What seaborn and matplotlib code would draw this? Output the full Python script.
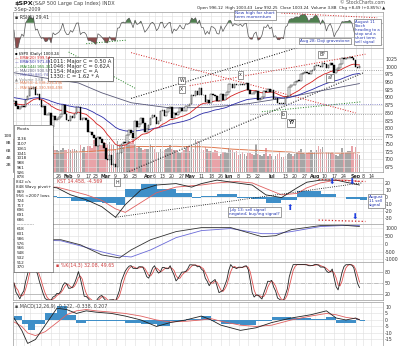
import numpy as np
import pandas as pd
import matplotlib
matplotlib.use("Agg")
import matplotlib.pyplot as plt
import seaborn as sns

# ---------------- data (read / estimated from the chart) ----------------
start_date = "2008-12-19"
holidays = ["2008-12-25", "2009-01-01", "2009-01-19", "2009-02-16",
            "2009-04-10", "2009-05-25", "2009-07-03", "2009-09-07"]

close_dec = [887.9, 871.6, 863.2, 868.2, 872.8, 869.4, 890.6, 903.3]
close_jan = [931.8, 927.5, 934.7, 906.7, 909.7, 890.4, 870.3, 871.8, 842.6, 843.7,
             850.1, 805.2, 840.2, 827.5, 831.9, 836.6, 845.7, 874.1, 845.1, 825.9]
close_feb = [825.4, 838.5, 832.2, 845.9, 868.6, 869.9, 827.2, 833.7, 835.2, 826.8,
             789.2, 788.4, 778.9, 770.1, 743.3, 773.1, 764.9, 752.8, 735.1]
close_mar = [700.8, 696.3, 712.9, 682.6, 683.4, 676.5, 719.6, 721.4, 750.7, 756.6, 753.9,
             778.1, 794.4, 784.0, 768.5, 822.9, 806.1, 813.9, 832.9, 815.9, 787.5, 797.9]
close_apr = [811.1, 834.4, 842.5, 835.5, 815.6, 825.2, 856.6, 858.7, 841.5, 852.1, 865.3,
             869.6, 832.4, 850.1, 843.6, 851.9, 866.2, 857.5, 855.2, 873.6, 872.8]
close_may = [877.5, 907.2, 903.8, 919.5, 907.4, 929.2, 909.2, 908.4, 883.9, 893.1,
             882.9, 909.7, 908.1, 903.5, 888.3, 887.0, 910.3, 893.1, 906.8, 919.1]
close_jun = [942.9, 944.7, 931.8, 942.5, 940.1, 939.1, 942.4, 939.2, 944.9, 946.2, 923.7,
             912.0, 910.7, 918.4, 921.2, 893.0, 895.1, 900.9, 920.3, 918.9, 927.2, 919.3]
close_jul = [923.3, 896.4, 898.7, 881.0, 879.6, 882.7, 879.1, 901.1, 905.8, 932.7, 940.7,
             940.4, 951.1, 954.6, 954.1, 976.3, 979.3, 982.2, 979.6, 975.2, 986.8, 987.5]
close_aug = [1002.6, 1005.7, 1002.7, 997.1, 1010.5, 1007.1, 994.4, 1005.8, 1012.7, 1004.1, 979.7,
             989.7, 996.5, 1007.4, 1026.1, 1025.6, 1028.0, 1028.1, 1031.0, 1028.9, 1020.6]
close_sep = [998.0, 994.75, 1003.24]

vol_dec = [9.0, 4.2, 4.0, 2.2, 2.0, 3.0, 3.5, 3.0]
vol_jan = [4.0, 5.4, 6.0, 5.6, 5.2, 4.9, 5.6, 5.9, 6.5, 7.3, 6.9, 6.3, 7.0, 6.1, 5.9, 5.7, 6.0, 6.6, 5.9, 6.0]
vol_feb = [6.2, 6.0, 6.4, 6.2, 6.0, 5.4, 7.3, 6.4, 6.8, 5.3, 7.0, 7.0, 6.6, 8.7, 7.5, 7.5, 7.4, 7.5, 8.2]
vol_mar = [7.9, 7.6, 8.1, 7.7, 7.3, 6.4, 8.6, 7.6, 7.7, 6.9, 7.6, 7.8, 8.6, 8.0, 9.1, 7.6, 6.7, 7.1, 6.5, 6.1, 6.4, 6.4]
vol_apr = [6.4, 7.6, 6.9, 6.2, 5.5, 5.6, 6.3, 5.8, 6.1, 6.3, 6.6, 7.4, 6.3, 6.1, 5.9, 5.5, 5.3, 5.5, 5.9, 6.6, 7.1]
vol_may = [5.8, 6.8, 6.3, 8.8, 8.4, 8.5, 6.4, 6.1, 6.8, 6.2, 5.7, 5.7, 5.5, 6.1, 5.7, 4.4, 5.0, 5.4, 5.5, 5.3]
vol_jun = [6.5, 6.0, 6.0, 5.6, 5.7, 4.6, 5.0, 5.4, 5.0, 4.4, 5.1, 5.1, 4.8, 4.6, 7.7, 4.9, 4.6, 4.4, 5.0, 6.7, 4.5, 5.0]
vol_jul = [4.3, 3.3, 4.5, 4.9, 5.4, 4.2, 4.1, 4.5, 4.8, 5.2, 5.0, 4.5, 4.9, 5.6, 5.7, 6.2, 5.1, 5.0, 5.3, 5.5, 6.0, 5.4]
vol_aug = [5.6, 6.0, 7.2, 6.3, 6.8, 5.1, 5.4, 5.5, 5.3, 5.5, 4.8, 4.6, 4.4, 5.0, 6.5, 5.3, 5.3, 5.8, 5.8, 7.1, 5.6]
vol_sep = [6.9, 5.0, 4.6]

# slow overlay line of the price panel (read at a few dates: index, price)
slow_ma_idx = [0, 15, 33, 45, 60, 80, 100, 120, 140, 160, 177]
slow_ma_val = [980, 964, 947, 915, 883, 866, 868, 880, 900, 925, 945]

# second panel (oscillator, 20 .. -40)
p2_idx = [0, 9, 22, 29, 37, 45, 52, 57, 65, 73, 83, 91, 96, 104, 114, 122, 129, 137, 145, 150, 157, 165, 170, 177]
p2_black = [10, 16, 13, 3, -4, -14, -29, -11, 10, 17, 19, 14, 19, 24, 20, 17, 3, -1, 13, 21, 24, 24, 21, 17]
p2_red = [13, 14, 14, 9, 3, -5, -17, -22, -8, 6, 14, 16, 17, 20, 22, 20, 12, 3, 5, 13, 20, 24, 24, 22]

# third panel (summation-type, 1000 .. -1000)
p3_idx = [0, 24, 34, 45, 54, 60, 70, 83, 96, 111, 127, 134, 142, 157, 168, 177]
p3_black = [258, 258, -65, -710, -900, -390, 258, 775, 1030, 1030, 450, 515, 900, 1160, 1190, 1100]
p3_blue = [258, 194, -130, -516, -775, -840, -390, 390, 840, 970, 645, 645, 775, 1100, 1160, 1160]

# bottom panel (MACD-type, 10 .. -20)
p5_idx = [0, 4, 7, 11, 16, 22, 27, 32, 37, 42, 50, 57, 65, 73, 80, 88, 96, 101, 106,
          116, 124, 132, 142, 152, 160, 165, 170, 175, 177]
p5_black = [1.5, -8, -18, -15, -4, 9, 8, 5, 7, 6, 5, 3, 0, -5, -2, 0, 3, 0, -4,
            -8, -6, -2, 1.5, 4, 7, 1.5, 0, 1.5, 0]
p5_red = [-1.5, -5, -10, -12, -9, -2, 4, 7, 8, 7, 6, 5, 3, 0, -1.5, -1, 0, 1, -1,
          -4, -5, -4, 0, 3, 5, 4, 2, 1, 0.5]

tick_dates = ['2008-12-22', '2008-12-29', '2009-01-02', '2009-01-12', '2009-01-20', '2009-01-26',
              '2009-02-02', '2009-02-09', '2009-02-17', '2009-02-23', '2009-03-02', '2009-03-09',
              '2009-03-16', '2009-03-23', '2009-04-01', '2009-04-06', '2009-04-13', '2009-04-20',
              '2009-04-27', '2009-05-01', '2009-05-11', '2009-05-18', '2009-05-26', '2009-06-01',
              '2009-06-08', '2009-06-15', '2009-06-22', '2009-07-01', '2009-07-13', '2009-07-20',
              '2009-07-27', '2009-08-03', '2009-08-10', '2009-08-17', '2009-08-24', '2009-09-01',
              '2009-09-08', '2009-09-14']
# the first five labels sit behind the pivots box in the reference
tick_labels = ['', '', '', '', '', '26', 'Feb', '9', '17', '23', 'Mar', '9', '16', '23',
               'Apr', '6', '13', '20', '27', 'May', '11', '18', '26', 'Jun', '8', '15', '22', 'Jul',
               '13', '20', '27', 'Aug', '10', '17', '24', 'Sep', '8', '14']
month_names = ['Jan', 'Feb', 'Mar', 'Apr', 'May', 'Jun', 'Jul', 'Aug', 'Sep']

# trendlines drawn by the analyst: ((index, price), (index, price), colour, style)
trendlines = [
    ((53, 645), (179, 980), 'black', ':'),
    ((60, 897), (180, 1128), 'black', ':'),
    ((90, 938), (180, 1040), '#d02020', ':'),
    ((60, 1045), (175, 850), '#d02020', ':'),
    ((28, 1047), (62, 930), '#208020', ':'),
    ((127, 854), (178, 886), '#208020', ':'),
]
hlines = [(990, 90, 189, '#888888'), (880, -1, 189, '#7070c0'), (845, 121, 189, '#888888'),
          (765, 45, 189, '#888888')]

pivots = ['1136', '1107', '1061', '1041', '1018', '988', '961', '926', '878', '842 c/s',
          '848 Wavy pivot+', '869', '956 <2007 lows', '724', '717', '696', '691', '686',
          '------------', '618', '601', '586', '576', '566', '548', '532', '512', '370']

# ---------------- preparation ----------------
closes = close_dec + close_jan + close_feb + close_mar + close_apr + close_may + close_jun + close_jul + close_aug + close_sep
volumes = vol_dec + vol_jan + vol_feb + vol_mar + vol_apr + vol_may + vol_jun + vol_jul + vol_aug + vol_sep
assert len(closes) == len(volumes)
n = len(closes)

days = pd.bdate_range(start_date, '2009-09-30')
days = days[~days.isin(pd.to_datetime(holidays))]
pos = {d: i for i, d in enumerate(days)}
tick_pos = [pos[pd.Timestamp(d)] for d in tick_dates]

x = np.arange(n)
s = pd.Series(closes, dtype=float)
opens = s.shift(1).fillna(s.iloc[0])


def ema(vals, span, seed):
    a = 2.0 / (span + 1)
    out, prev = [], seed
    for v in vals:
        prev = prev + a * (v - prev)
        out.append(prev)
    return np.array(out)


ema20 = ema(closes, 20, 880)
ema50 = ema(closes, 50, 900)

d = s.diff().fillna(0)
up = d.clip(lower=0).ewm(alpha=1 / 5, adjust=False).mean()
dn = (-d.clip(upper=0)).ewm(alpha=1 / 5, adjust=False).mean()
rsi = (100 - 100 / (1 + up / dn.replace(0, np.nan))).fillna(50).values

lo = s.rolling(14, min_periods=1).min()
hi = s.rolling(14, min_periods=1).max()
fk = (100 * (s - lo) / (hi - lo)).fillna(50)
slowk = fk.rolling(3, min_periods=1).mean().values
slowd = pd.Series(slowk).rolling(3, min_periods=1).mean().values

vol_ma = pd.Series(volumes).rolling(50, min_periods=1).mean().values

# ---------------- figure ----------------
sns.set_theme(style="white")
plt.rcParams['font.family'] = ['DejaVu Sans']
GRID = '#dedede'
SPINE = '#9a9a9a'
TXT = '#333333'
FS = 3.4

fig = plt.figure(figsize=(4.0, 3.46), dpi=100)
fig.patch.set_facecolor('white')
L, W, H = 13 / 400, 370 / 400, 346


def add(top, bot):
    return fig.add_axes([L, 1 - bot / H, W, (bot - top) / H])


def style(ax, yticks, ylabels, xlabels=False):
    ax.set_xlim(-0.5, 189)
    ax.set_xticks(tick_pos)
    ax.set_yticks(yticks)
    ax.yaxis.tick_right()
    ax.set_yticklabels(ylabels)
    ax.tick_params(axis='y', length=0, pad=1.5, labelsize=FS, labelcolor=TXT)
    if xlabels:
        ax.set_xticklabels(tick_labels)
        ax.tick_params(axis='x', length=0, pad=1.2, labelsize=FS, labelcolor=TXT)
        for t in ax.get_xticklabels():
            if t.get_text() in month_names:
                t.set_fontweight('bold')
    else:
        ax.set_xticklabels([])
        ax.tick_params(axis='x', length=0)
    for p in tick_pos:
        ax.axvline(p, color=GRID, lw=0.4, zorder=0)
    for yv in yticks:
        ax.axhline(yv, color=GRID, lw=0.4, zorder=0)
    for sp in ax.spines.values():
        sp.set_color(SPINE)
        sp.set_linewidth(0.5)
    ax.set_xlabel('')
    ax.set_ylabel('')


# ---- RSI panel ----
ax_rsi = add(12, 48)
ax_rsi.set_ylim(0, 100)
ax_rsi.axhline(70, color='#aaaaaa', lw=0.4)
ax_rsi.axhline(30, color='#aaaaaa', lw=0.4)
ax_rsi.fill_between(x, 70, rsi, where=rsi > 70, interpolate=True, color='#4f7f4f', lw=0)
ax_rsi.fill_between(x, 30, rsi, where=rsi < 30, interpolate=True, color='#8a4c4c', lw=0)
sns.lineplot(x=x, y=rsi, ax=ax_rsi, color='#555555', lw=0.5)
ax_rsi.plot([137, 186], [97, 84], color='#d02020', ls=':', lw=0.7)
ax_rsi.plot([37, 58], [12, 22], color='#208020', ls=':', lw=0.7)
ax_rsi.text(0.005, 0.93, '\u25aa RSI(5) 29.41', transform=ax_rsi.transAxes, fontsize=FS, color=TXT, va='top')
style(ax_rsi, [10, 30, 50, 70, 90], ['', '', '', '', ''])

# ---- volume (behind price) ----
ax_vol = add(48, 172)
ax_vol.set_xlim(-0.5, 189)
ax_vol.set_ylim(0, 34)
vcol = ['#e8a3a8' if c < o else '#a6a6a6' for c, o in zip(closes, opens)]
ax_vol.bar(x, volumes, width=0.8, color=vcol, linewidth=0)
sns.lineplot(x=x, y=vol_ma, ax=ax_vol, color='#e07a50', lw=0.7)
ax_vol.set_yticks([2, 4, 6, 8, 10])
ax_vol.set_yticklabels(['2B', '4B', '6B', '8B', '10B'])
ax_vol.tick_params(axis='y', length=0, pad=1, labelsize=FS - 0.3, labelcolor=TXT)
ax_vol.set_xticks([])
for p in tick_pos:
    ax_vol.axvline(p, color=GRID, lw=0.4, zorder=0)
for sp in ax_vol.spines.values():
    sp.set_visible(False)
ax_vol.set_ylabel('')

# ---- price panel ----
ax = add(48, 172)
ax.patch.set_visible(False)
ax.set_ylim(659, 1060)
pt = list(range(675, 1050, 25))
style(ax, pt, [str(v) for v in pt], xlabels=True)
for (i0, p0), (i1, p1), c, ls in trendlines:
    ax.plot([i0, i1], [p0, p1], color=c, ls=ls, lw=0.7)
for yv, a0, a1, c in hlines:
    ax.plot([a0, a1], [yv, yv], color=c, ls=':', lw=0.6)
sns.lineplot(x=slow_ma_idx, y=slow_ma_val, ax=ax, color='#5a5a78', lw=0.6)
sns.lineplot(x=x, y=ema50, ax=ax, color='#2c2ca8', lw=0.6)
sns.lineplot(x=x, y=ema20, ax=ax, color='#d42020', lw=0.6)
bottoms = np.minimum(opens.values, s.values)
heights = np.maximum(np.abs(s.values - opens.values), 1.0)
faces = ['black' if c < o else 'white' for c, o in zip(closes, opens)]
ax.bar(x, heights, bottom=bottoms, width=0.8, color=faces, edgecolor='black', linewidth=0.3, zorder=5)
ax.set_xlabel('')
ax.set_ylabel('')

box = dict(boxstyle='square,pad=0.25', fc='white', ec='#444444', lw=0.4)
for (i, p, t) in [(86, 954, 'W'), (86, 925, 'X'), (116, 973, 'x'), (158, 1040, 'B?'),
                  (162, 963, 'a?'), (138, 845, 'b'), (142, 818, 'Y?')]:
    ax.text(i, p, t, fontsize=FS, ha='center', va='center', bbox=box, zorder=8,
            fontweight='bold' if t == 'Y?' else 'normal')
ax.text(0.1, 0.915, '1011: Major C = 0.50 A\n1046: Major C = 0.62A\n1154: Major C = A\n1330: C = 1.62 * A',
        transform=ax.transAxes, fontsize=3.8, va='top', ha='left', linespacing=1.05,
        bbox=dict(boxstyle='square,pad=0.3', fc='white', ec='#444444', lw=0.5), zorder=9)

legend_rows = [('\u25aa \\$SPX (Daily) 1003.24', 'black'), ('\u2014 EMA(20) 999.54', '#d42020'),
               ('\u2014 EMA(50) 971.49', '#2c2ca8'), ('- - MA(144) 955.31', '#208020'),
               ('\u2014 MA(200) 900.57', '#5a5a78'), ('- - MA(89) 881.74', '#7070c0'),
               ('\u25b2 Volume 3.8B', '#888888'), ('\u2014 MA(50) 4,338,226,496', '#e07a50'),
               ('- - MA(60) 4,330,980,498', '#e07a50')]
for k, (t, c) in enumerate(legend_rows):
    fig.text(15 / 400, 1 - (54 + 4.2 * k) / H, t, fontsize=2.7, color=c, va='center')

# ---- panel 2 ----
ax2 = add(178, 224)
ax2.set_ylim(-38.6, 27)
style(ax2, [20, 10, 0, -10, -20, -30], ['20', '10', '0', '-10', '-20', '-30'])
h2 = np.array(p2_black) - np.array(p2_red)
w2 = np.diff(p2_idx + [p2_idx[-1] + 4])
ax2.bar(p2_idx, h2, width=w2, align='edge', color='#3f8fc8', linewidth=0)
sns.lineplot(x=p2_idx, y=p2_red, ax=ax2, color='#e06060', lw=0.6)
sns.lineplot(x=p2_idx, y=p2_black, ax=ax2, color='#222222', lw=0.6)
ax2.plot([52, 178], [-29, 20], color='black', ls=':', lw=0.6)
ax2.plot([156, 180], [25, 22], color='#d02020', ls=':', lw=0.9)
ax2.plot([156, 180], [-33, -35], color='#d02020', ls=':', lw=0.9)
fig.text(57 / 400, 1 - 181 / H, 'KST 14.458, -4.569', fontsize=FS, color='#d04040', va='center')
ax2.set_xlabel('')
ax2.set_ylabel('')

# ---- panel 3 ----
ax3 = add(224, 262)
ax3.set_ylim(-1160, 1260)
style(ax3, [1000, 500, 0, -500, -1000], ['1000', '500', '0', '-500', '-1000'])
sns.lineplot(x=p3_idx, y=p3_blue, ax=ax3, color='#6a6ad8', lw=0.6)
sns.lineplot(x=p3_idx, y=p3_black, ax=ax3, color='#333333', lw=0.6)
ax3.set_xlabel('')
ax3.set_ylabel('')

# ---- panel 4 (slow stochastic) ----
ax4 = add(262, 300)
ax4.set_ylim(3.6, 107)
style(ax4, [80, 50, 20], ['80', '50', '20'])
ax4.axhline(80, color='#aaaaaa', lw=0.5)
ax4.axhline(20, color='#aaaaaa', lw=0.5)
ax4.axhline(50, color='#aaaaaa', lw=0.5, ls='-.')
sns.lineplot(x=x, y=slowd, ax=ax4, color='#e05050', lw=0.6)
sns.lineplot(x=x, y=slowk, ax=ax4, color='#222222', lw=0.6)
fig.text(56 / 400, 1 - 265 / H, '\u25aa %K(14,3) 32.08, 49.65', fontsize=FS, color='#d04040', va='center')
ax4.set_xlabel('')
ax4.set_ylabel('')

# ---- panel 5 (MACD) ----
ax5 = add(302, 346)
ax5.set_ylim(-20, 13.8)
style(ax5, [10, 5, 0, -5, -10, -15], ['10', '5', '0', '-5', '-10', '-15'])
h5 = np.array(p5_black) - np.array(p5_red)
w5 = np.diff(p5_idx + [p5_idx[-1] + 3])
ax5.bar(p5_idx, h5, width=w5, align='edge', color='#3f8fc8', linewidth=0)
sns.lineplot(x=p5_idx, y=p5_red, ax=ax5, color='#e06060', lw=0.6)
sns.lineplot(x=p5_idx, y=p5_black, ax=ax5, color='#222222', lw=0.6)
ax5.text(0.005, 0.95, '\u25aa MACD(12,26,9) -0.122, -0.338, 0.207', transform=ax5.transAxes,
         fontsize=FS, color='#444444', va='top')
ax5.set_xlabel('')
ax5.set_ylabel('')

# ---- header ----
fig.text(14 / 400, 1 - 3.5 / H, '\\$SPX', fontsize=4.6, fontweight='bold', va='center', color='#222222')
fig.text(33 / 400, 1 - 3.5 / H, '(S&P 500 Large Cap Index) INDX', fontsize=3.6, va='center', color='#444444')
fig.text(14 / 400, 1 - 9.5 / H, '3-Sep-2009', fontsize=3.4, va='center', color='#444444')
fig.text(385 / 400, 1 - 3 / H, '\u00a9 StockCharts.com', fontsize=3.3, va='center', ha='right', color='#555555')
fig.text(385 / 400, 1 - 8 / H, 'Open 996.12  High 1003.43  Low 992.25  Close 1003.24  Volume 3.8B  Chg +8.49 (+0.85%) \u25b2',
         fontsize=2.9, va='center', ha='right', color='#222222')

# ---- callouts ----
blue_txt = '#2235b0'
cb = dict(boxstyle='square,pad=0.25', fc='white', ec='#555555', lw=0.4)
fig.text(235 / 400, 1 - 15 / H, 'New high for short\nterm momentum', fontsize=3.1, color=blue_txt,
         va='center', bbox=cb, linespacing=1.0)
fig.text(300 / 400, 1 - 41 / H, 'Aug 28: Doji gravestone', fontsize=3.0, color=blue_txt, va='center', bbox=cb)
fig.text(355 / 400, 1 - 32 / H, 'August 11\nStoch\nheading to a\nstop and a\nshort term\nsell signal',
         fontsize=2.8, color=blue_txt, va='center', bbox=cb, linespacing=1.0)
fig.text(229 / 400, 1 - 212 / H, 'July 13: sell signal\nnegated; buy/ing signal?', fontsize=3.0,
         color=blue_txt, va='center', bbox=cb, linespacing=1.0)
fig.text(369 / 400, 1 - 201 / H, 'August\n11 sell\nsignal', fontsize=3.0, color=blue_txt, va='center',
         bbox=cb, linespacing=1.0)
fig.text(117 / 400, 1 - 182 / H, 'H', fontsize=3.4, va='center', ha='center', bbox=box)
for (px, py, ch) in [(332, 182, '\u2b07'), (352, 182, '\u2b07'), (290, 208, '\u2b06'), (355, 217, '\u2b07')]:
    fig.text(px / 400, 1 - py / H, ch, fontsize=5.5, color='#1f3fe0', ha='center', va='center')

# ---- pivots box ----
axp = fig.add_axes([14 / 400, 1 - 272 / H, 39 / 400, 147 / H])
axp.set_xticks([])
axp.set_yticks([])
axp.set_facecolor('white')
for sp in axp.spines.values():
    sp.set_color('#777777')
    sp.set_linewidth(0.5)
axp.text(0.06, 0.985, 'Pivots', fontsize=3.2, va='top', color='#222222', transform=axp.transAxes)
for k, t in enumerate(pivots):
    axp.text(0.06, 0.915 - k * 0.0322, t, fontsize=3.0, va='top', color='#222222', transform=axp.transAxes)

fig.savefig('out.png', dpi=100, facecolor='white')
